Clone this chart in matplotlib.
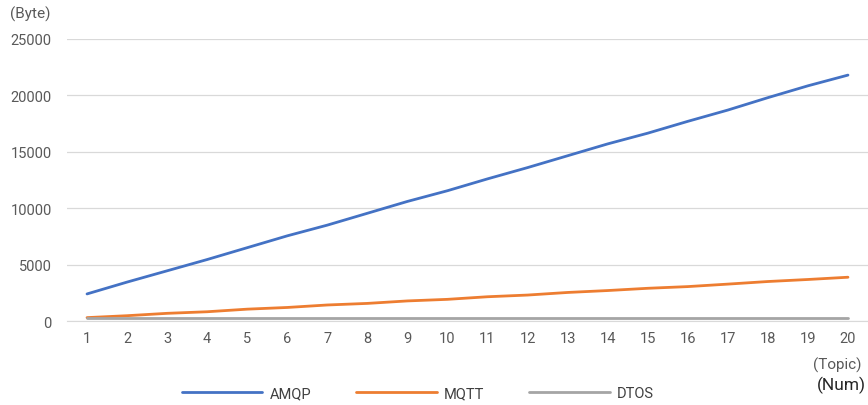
import matplotlib
matplotlib.use("Agg")
import matplotlib.pyplot as plt
from matplotlib.ticker import MultipleLocator

topics = list(range(1, 21))
amqp = [2400, 3450, 4450, 5450, 6500, 7550, 8500, 9550, 10600, 11550,
        12600, 13600, 14650, 15700, 16650, 17700, 18700, 19800, 20850, 21800]
mqtt = [300, 470, 680, 820, 1050, 1200, 1420, 1560, 1780, 1920,
        2150, 2300, 2530, 2700, 2900, 3050, 3270, 3500, 3680, 3880]
dtos = [260] * 20
series_names = ["AMQP", "MQTT", "DTOS"]
colors = ["#4472C4", "#ED7D31", "#A5A5A5"]

plt.rcParams['font.family'] = ['Roboto', 'DejaVu Sans']
W, H = 868, 406
fig = plt.figure(figsize=(W / 100, H / 100), dpi=100)
ax = fig.add_axes([67 / W, 1 - 322 / H, (868 - 67) / W, (322 - 40) / H])

lines = []
for vals, name, c in zip([amqp, mqtt, dtos], series_names, colors):
    ln, = ax.plot(topics, vals, color=c, lw=2.0, label=name, solid_capstyle='round')
    lines.append(ln)

ax.set_xlim(0.5, 20.5)
ax.set_ylim(0, 25000)
ax.yaxis.set_major_locator(MultipleLocator(5000))
ax.set_xticks(topics)
ax.grid(axis='y', color='#d9d9d9', lw=0.9)
ax.set_axisbelow(True)
for s in ['top', 'right', 'left']:
    ax.spines[s].set_visible(False)
ax.spines['bottom'].set_color('#d9d9d9')
ax.tick_params(axis='both', length=0, labelsize=10.5, labelcolor='#595959')
ax.tick_params(axis='y', pad=11)
ax.tick_params(axis='x', pad=7)

fig.text(10 / W, 1 - 14 / H, "(Byte)", fontsize=11, color='#595959', va='center', ha='left')
fig.text(862 / W, 1 - 365 / H, "(Topic)", fontsize=11, color='#595959', va='center', ha='right')
fig.text(866 / W, 1 - 385 / H, "(Num)", fontsize=12.5, color='#262626', va='center', ha='right')

fig.legend(handles=lines, loc='center', bbox_to_anchor=(418 / W, 1 - 394 / H), ncol=3,
           frameon=False, fontsize=10.5, handlelength=5.5, columnspacing=3.1,
           handletextpad=0.5, labelcolor='#404040')

fig.savefig("out.png", dpi=100)
